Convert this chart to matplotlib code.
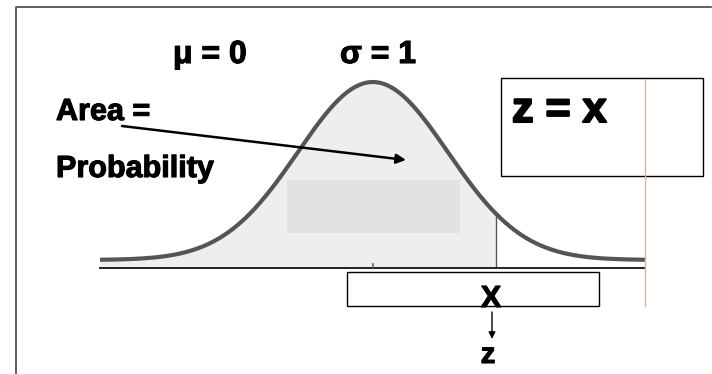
import numpy as np
import matplotlib
matplotlib.use("Agg")
import matplotlib.pyplot as plt
import matplotlib.patheffects as pe
from matplotlib.patches import Rectangle

# distribution parameters
mu = 0
sigma = 1
x_cut = 1.64            # the X value marked on the axis (in sigma units)
z_lo, z_hi = -3.64, 3.63

# labels
mu_label = "\u03bc = 0"
sigma_label = "\u03c3 = 1"
area_label = ["Area =", "Probability"]
formula_label = "z = x"
x_label = "X"
z_label = "z"

plt.rcParams['font.family'] = ['Liberation Sans', 'DejaVu Sans']
plt.rcParams['font.weight'] = 'bold'

W, H = 712, 374
fig = plt.figure(figsize=(W / 100, H / 100), dpi=100)

# axes holding the bell curve (pixel box 100..645 x 82..268)
ax = fig.add_axes([100 / W, (H - 268) / H, 545 / W, (268 - 82) / H])
ax.axis('off')

zz = np.linspace(z_lo, z_hi, 500)
pdf = np.exp(-0.5 * ((zz - mu) / sigma) ** 2) / (sigma * np.sqrt(2 * np.pi))
peak = pdf.max()
ymin = -peak * 8 / 178
ax.set_xlim(z_lo, z_hi)
ax.set_ylim(ymin, peak)

mask = zz <= x_cut
ax.fill_between(zz[mask], ymin, pdf[mask], color='#eeeeee', lw=0, zorder=1)
y_cut = np.exp(-0.5 * ((x_cut - mu) / sigma) ** 2) / (sigma * np.sqrt(2 * np.pi))
ax.plot([x_cut, x_cut], [ymin, y_cut], color='#555555', lw=1, zorder=2)
ax.plot(zz, pdf, color='#555555', lw=3, solid_capstyle='butt', zorder=3, clip_on=False)
ax.plot([z_lo, z_hi], [ymin, ymin], color='#222222', lw=1.4, zorder=3, clip_on=False)
ax.plot([mu, mu], [ymin, ymin + peak * 4 / 178], color='#666666', lw=1.2, zorder=3)

# overlay in pixel coordinates for the annotations
ov = fig.add_axes([0, 0, 1, 1])
ov.set_xlim(0, W)
ov.set_ylim(H, 0)
ov.axis('off')
ov.patch.set_alpha(0)

# outer frame
ov.plot([16, 16, W - 1], [H, 7, 7], color='#444444', lw=1.2)

# shaded block inside the area
ov.add_patch(Rectangle((287, 180), 173, 53, facecolor='#e2e2e2', edgecolor='none'))

# boxes
ov.add_patch(Rectangle((501, 78), 202, 98, facecolor='none', edgecolor='black', lw=1))
ov.add_patch(Rectangle((347, 272), 252, 34, facecolor='none', edgecolor='black', lw=1))
ov.plot([645, 645], [80, 306], color='#f4a6a6', lw=1)

# texts (a thin stroke makes them as heavy as the original)
heavy = [pe.withStroke(linewidth=0.8, foreground='black')]
ov.text(173, 63, mu_label, fontsize=23, va='baseline', ha='left', path_effects=heavy)
ov.text(340, 63, sigma_label, fontsize=23, va='baseline', ha='left', path_effects=heavy)
ov.text(56, 120, area_label[0], fontsize=22, va='baseline', ha='left', path_effects=heavy)
ov.text(56, 177, area_label[1], fontsize=22, va='baseline', ha='left', path_effects=heavy)
ov.text(512, 122, formula_label, fontsize=31, va='baseline', ha='left',
        path_effects=[pe.withStroke(linewidth=1.5, foreground='black')])
ov.text(491, 307, x_label, fontsize=22, va='baseline', ha='center', path_effects=heavy)
ov.text(488, 363, z_label, fontsize=21, va='baseline', ha='center', path_effects=heavy)

# arrows
ov.annotate('', xy=(406, 160), xytext=(122, 126),
            arrowprops=dict(arrowstyle='-|>', color='black', lw=1.8,
                            mutation_scale=14, shrinkA=0, shrinkB=0))
ov.annotate('', xy=(492, 339), xytext=(492, 312),
            arrowprops=dict(arrowstyle='-|>', color='black', lw=1,
                            mutation_scale=10, shrinkA=0, shrinkB=0))

fig.savefig('out.png', dpi=100)
